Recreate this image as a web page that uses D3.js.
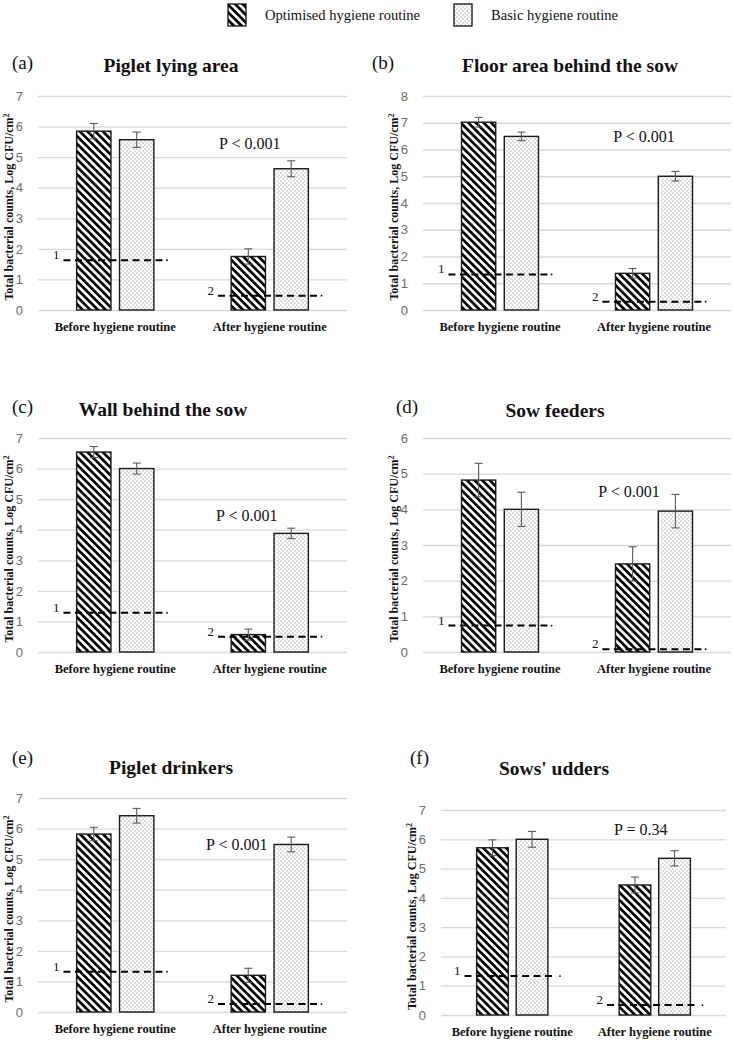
<!DOCTYPE html>
<html>
<head>
<meta charset="utf-8">
<script src="https://cdn.jsdelivr.net/npm/d3@7"></script>
<style>
  html, body { margin: 0; padding: 0; background: #fff; }
  svg { display: block; }
</style>
</head>
<body>
<div id="chart"></div>
<script>
// ---- data ----
const categories = ["Before hygiene routine", "After hygiene routine"];
const seriesNames = ["Optimised hygiene routine", "Basic hygiene routine"];

const panelLetters = ["(a)", "(b)", "(c)", "(d)", "(e)", "(f)"];
const panelTitles = ["Piglet lying area", "Floor area behind the sow", "Wall behind the sow",
                     "Sow feeders", "Piglet drinkers", "Sows' udders"];
const yMaxes = [7, 8, 7, 6, 7, 7];

// means per panel: [before, after]
const optimisedMeans = [[5.85, 1.75], [7.02, 1.37], [6.54, 0.57], [4.82, 2.47], [5.82, 1.20], [5.71, 4.44]];
const optimisedErrors = [[0.25, 0.25], [0.18, 0.18], [0.18, 0.18], [0.47, 0.48], [0.22, 0.23], [0.27, 0.27]];
const basicMeans = [[5.57, 4.62], [6.49, 5.00], [6.00, 3.88], [4.00, 3.95], [6.42, 5.48], [6.00, 5.35]];
const basicErrors = [[0.25, 0.26], [0.16, 0.18], [0.18, 0.17], [0.48, 0.47], [0.24, 0.24], [0.27, 0.26]];

// dashed reference levels (1 = before, 2 = after)
const thresholds = [[1.63, 0.47], [1.33, 0.31], [1.28, 0.50], [0.74, 0.08], [1.32, 0.26], [1.33, 0.34]];
const thresholdLabels = ["1", "2"];

const pLabels = ["P < 0.001", "P < 0.001", "P < 0.001", "P < 0.001", "P < 0.001", "P = 0.34"];
const pLabelLevels = [5.45, 6.47, 4.48, 4.51, 5.49, 6.35];

// ---- layout ----
const W = 733, H = 1040;
const layout = [
  { x0: 38,  x1: 347, top: 96,  bottom: 310,  letterX: 12,  letterY: 69,  titleX: 171, titleY: 72,  pDx: -20 },
  { x0: 423, x1: 731, top: 96,  bottom: 310,  letterX: 372, letterY: 69,  titleX: 570, titleY: 72,  pDx: -10 },
  { x0: 38,  x1: 347, top: 438, bottom: 652,  letterX: 12,  letterY: 413, titleX: 163, titleY: 416, pDx: -23 },
  { x0: 423, x1: 731, top: 438, bottom: 652,  letterX: 396, letterY: 413, titleX: 555, titleY: 417, pDx: -25 },
  { x0: 38,  x1: 347, top: 798, bottom: 1012, letterX: 12,  letterY: 764, titleX: 171, titleY: 774, pDx: -33 },
  { x0: 441, x1: 726, top: 810, bottom: 1015, letterX: 410, letterY: 764, titleX: 554, titleY: 775, pDx: -14 }
];

const serif = "'Liberation Serif', 'Times New Roman', serif";
const sans = "'Liberation Sans', Arial, sans-serif";
const gridColor = "#d9d9d9";

const svg = d3.select("#chart").append("svg")
  .attr("width", W)
  .attr("height", H);

// fill patterns
const defs = svg.append("defs");
defs.append("pattern")
  .attr("id", "hatch")
  .attr("patternUnits", "userSpaceOnUse")
  .attr("width", 5.4)
  .attr("height", 10)
  .attr("patternTransform", "rotate(-45)")
  .call(p => p.append("rect").attr("width", 5.4).attr("height", 10).attr("fill", "#fff"))
  .call(p => p.append("rect").attr("width", 2.7).attr("height", 10).attr("fill", "#000"));

const dots = defs.append("pattern")
  .attr("id", "dots")
  .attr("patternUnits", "userSpaceOnUse")
  .attr("width", 4)
  .attr("height", 4);
dots.append("rect").attr("width", 4).attr("height", 4).attr("fill", "#fff");
dots.append("rect").attr("x", 0.5).attr("y", 0.5).attr("width", 1).attr("height", 1).attr("fill", "#7a7a7a");
dots.append("rect").attr("x", 2.5).attr("y", 2.5).attr("width", 1).attr("height", 1).attr("fill", "#7a7a7a");

const fills = ["url(#hatch)", "url(#dots)"];

// legend
const legendItems = [
  { x: 228, textX: 265, len: 155 },
  { x: 454, textX: 491, len: 127 }
];
legendItems.forEach((l, i) => {
  svg.append("rect")
    .attr("x", l.x).attr("y", 4)
    .attr("width", 18).attr("height", 22)
    .attr("fill", fills[i])
    .attr("stroke", "#111")
    .attr("stroke-width", 1.3);
  svg.append("text")
    .attr("x", l.textX).attr("y", 20)
    .attr("font-family", serif)
    .attr("font-size", 15.5)
    .attr("textLength", l.len)
    .attr("lengthAdjust", "spacingAndGlyphs")
    .attr("fill", "#111")
    .text(seriesNames[i]);
});

function drawPanel(i) {
  const L = layout[i];
  const g = svg.append("g");

  const y = d3.scaleLinear().domain([0, yMaxes[i]]).range([L.bottom, L.top]);
  const x = d3.scaleBand().domain(categories).range([L.x0, L.x1]);
  const bw = x.bandwidth();
  const xs = d3.scaleBand().domain(seriesNames).range([bw * 0.25, bw * 0.75]).paddingInner(0.2);

  // grid
  g.append("g")
    .attr("transform", `translate(${L.x0},0)`)
    .call(d3.axisLeft(y).ticks(yMaxes[i]).tickSize(-(L.x1 - L.x0)).tickFormat(""))
    .call(a => a.select(".domain").remove())
    .call(a => a.selectAll("line").attr("stroke", gridColor).attr("stroke-width", 1.3));

  // tick labels
  g.append("g")
    .attr("transform", `translate(${L.x0 - 12},0)`)
    .call(d3.axisLeft(y).ticks(yMaxes[i]).tickSize(0).tickFormat(d3.format("d")))
    .call(a => a.select(".domain").remove())
    .call(a => a.selectAll("text")
      .attr("font-family", sans)
      .attr("font-size", 13)
      .attr("fill", "#6b6b6b"));

  // y axis title
  g.append("text")
    .attr("transform", `translate(${L.x0 - 25},${(L.top + L.bottom) / 2 + 4}) rotate(-90)`)
    .attr("text-anchor", "middle")
    .attr("font-family", serif)
    .attr("font-weight", "bold")
    .attr("font-size", 12)
    .attr("fill", "#111")
    .call(t => {
      t.append("tspan").text("Total bacterial counts, Log CFU/cm");
      t.append("tspan").attr("dy", -4).attr("font-size", 8).text("2");
    });

  // category labels
  g.selectAll(".cat")
    .data(categories)
    .join("text")
    .attr("x", d => x(d) + bw / 2)
    .attr("y", L.bottom + 21)
    .attr("text-anchor", "middle")
    .attr("font-family", serif)
    .attr("font-weight", "bold")
    .attr("font-size", 12.5)
    .attr("fill", "#111")
    .text(d => d);

  const rows = [];
  categories.forEach((c, ci) => {
    rows.push({ cat: c, s: seriesNames[0], v: optimisedMeans[i][ci], e: optimisedErrors[i][ci], k: 0 });
    rows.push({ cat: c, s: seriesNames[1], v: basicMeans[i][ci], e: basicErrors[i][ci], k: 1 });
  });

  // bars
  g.selectAll(".bar")
    .data(rows)
    .join("rect")
    .attr("x", d => x(d.cat) + xs(d.s))
    .attr("y", d => y(d.v))
    .attr("width", xs.bandwidth())
    .attr("height", d => y(0) - y(d.v))
    .attr("fill", d => fills[d.k])
    .attr("stroke", "#1a1a1a")
    .attr("stroke-width", 1.4);

  // error bars
  const eb = g.selectAll(".err")
    .data(rows)
    .join("g")
    .attr("transform", d => `translate(${x(d.cat) + xs(d.s) + xs.bandwidth() / 2},0)`)
    .attr("stroke", "#5a5a5a")
    .attr("stroke-width", 1.1);
  eb.append("line").attr("y1", d => y(d.v - d.e)).attr("y2", d => y(d.v + d.e));
  eb.append("line").attr("x1", -4).attr("x2", 4).attr("y1", d => y(d.v + d.e)).attr("y2", d => y(d.v + d.e));
  eb.append("line").attr("x1", -4).attr("x2", 4).attr("y1", d => y(d.v - d.e)).attr("y2", d => y(d.v - d.e));

  // dashed thresholds
  const half = bw * 0.335;
  categories.forEach((c, ci) => {
    const cx = x(c) + bw / 2;
    const ty = y(thresholds[i][ci]);
    g.append("line")
      .attr("x1", cx - half).attr("x2", cx + half - 4)
      .attr("y1", ty).attr("y2", ty)
      .attr("stroke", "#000")
      .attr("stroke-width", 2)
      .attr("stroke-dasharray", "7,4.5");
    g.append("circle")
      .attr("cx", cx + half).attr("cy", ty)
      .attr("r", 0.9)
      .attr("fill", "#000");
    g.append("text")
      .attr("x", cx - half - 4)
      .attr("y", ty - 1)
      .attr("text-anchor", "end")
      .attr("font-family", serif)
      .attr("font-size", 13)
      .attr("fill", "#111")
      .text(thresholdLabels[ci]);
  });

  // p value
  g.append("text")
    .attr("x", x(categories[1]) + bw / 2 + L.pDx)
    .attr("y", y(pLabelLevels[i]) + 5.5)
    .attr("text-anchor", "middle")
    .attr("font-family", serif)
    .attr("font-size", 16)
    .attr("fill", "#111")
    .text(pLabels[i]);

  // panel letter and title
  g.append("text")
    .attr("x", L.letterX).attr("y", L.letterY)
    .attr("font-family", serif)
    .attr("font-size", 19)
    .attr("fill", "#111")
    .text(panelLetters[i]);
  g.append("text")
    .attr("x", L.titleX).attr("y", L.titleY)
    .attr("text-anchor", "middle")
    .attr("font-family", serif)
    .attr("font-weight", "bold")
    .attr("font-size", 19.5)
    .attr("fill", "#111")
    .text(panelTitles[i]);
}

d3.range(6).forEach(drawPanel);
</script>
</body>
</html>
